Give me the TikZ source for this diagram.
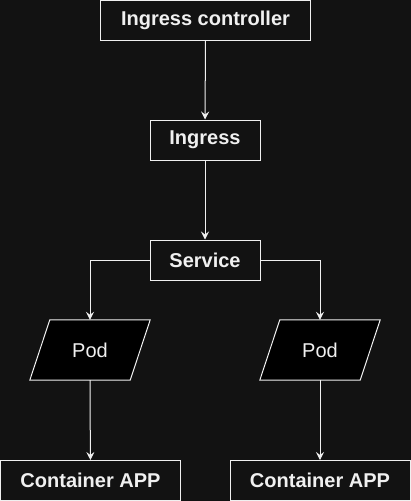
\documentclass[tikz,border=0pt]{standalone}
\usepackage{fontspec}
\setmainfont{Liberation Sans}
\usetikzlibrary{arrows.meta}
\definecolor{bg}{HTML}{121212}
\definecolor{fg}{HTML}{F0F0F0}
\begin{document}
\begin{tikzpicture}[x=1pt,y=-1pt,
  box/.style={draw=fg, line width=1pt, fill=bg, text=fg,
    font=\fontsize{20}{24}\selectfont\bfseries, minimum height=40pt, inner sep=0pt},
  podbox/.style={minimum width=120pt, minimum height=60pt, inner sep=0pt,
    text=fg, font=\fontsize{20}{24}\selectfont},
  podshape/.style={draw=fg, line width=1pt, fill=black, line join=miter},
  arr/.style={draw=fg, line width=1pt, -{Stealth[length=8pt,width=8pt,inset=3pt]}}
]
\fill[bg] (0,0) rectangle (411,501);
\useasboundingbox (0,0) rectangle (411,501);

\node[box, minimum width=210pt] (ic) at (205.5,20.5) {Ingress controller};
\node[box, minimum width=110pt] (ing) at (205,140) {Ingress};
\node[box, minimum width=110pt] (svc) at (205,260) {Service};

\node[podbox] (pod1) at (90,350) {};
\node[podbox] (pod2) at (320,350) {};
\draw[podshape] ([xshift=20pt]pod1.north west) -- (pod1.north east) -- ([xshift=-20pt]pod1.south east) -- (pod1.south west) -- cycle;
\draw[podshape] ([xshift=20pt]pod2.north west) -- (pod2.north east) -- ([xshift=-20pt]pod2.south east) -- (pod2.south west) -- cycle;
\node[podbox] at (pod1) {Pod};
\node[podbox] at (pod2) {Pod};

\node[box, minimum width=180pt] (ca1) at (90.5,480.5) {Container APP};
\node[box, minimum width=180pt] (ca2) at (320,480.5) {Container APP};

\draw[arr] (ic) -- (ing);
\draw[arr] (ing) -- (svc);
\draw[arr] (svc.west) -| (pod1.north);
\draw[arr] (svc.east) -| (pod2.north);
\draw[arr] (pod1.south) -- (ca1);
\draw[arr] (pod2.south) -- (ca2);
\end{tikzpicture}
\end{document}
